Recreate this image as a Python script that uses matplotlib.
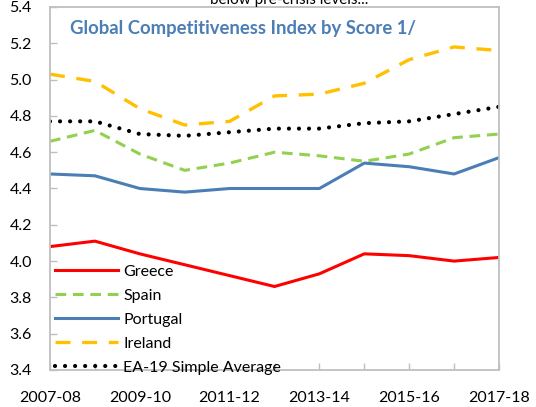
import matplotlib
matplotlib.use("Agg")
import matplotlib.pyplot as plt

plt.rcParams['font.family'] = ['Lato', 'DejaVu Sans']

years = ['2007-08', '2008-09', '2009-10', '2010-11', '2011-12', '2012-13',
         '2013-14', '2014-15', '2015-16', '2016-17', '2017-18']
greece = [4.08, 4.11, 4.04, 3.98, 3.92, 3.86, 3.93, 4.04, 4.03, 4.00, 4.02]
spain = [4.66, 4.72, 4.59, 4.50, 4.54, 4.60, 4.58, 4.55, 4.59, 4.68, 4.70]
portugal = [4.48, 4.47, 4.40, 4.38, 4.40, 4.40, 4.40, 4.54, 4.52, 4.48, 4.57]
ireland = [5.03, 4.99, 4.84, 4.75, 4.77, 4.91, 4.92, 4.98, 5.11, 5.18, 5.16]
ea19 = [4.77, 4.77, 4.70, 4.69, 4.71, 4.73, 4.73, 4.76, 4.77, 4.81, 4.85]

fig = plt.figure(figsize=(5.36, 4.07), dpi=100)
ax = fig.add_axes([50 / 536, 1 - 370 / 407, 449 / 536, 363 / 407])

x = list(range(len(years)))
ax.plot(x, greece, color='#ff0000', lw=2.2, label='Greece')
ax.plot(x, spain, color='#92d050', lw=2.2, ls=(0, (3.5, 2.2)), label='Spain')
ax.plot(x, portugal, color='#4a7eb5', lw=2.2, label='Portugal')
ax.plot(x, ireland, color='#ffc000', lw=2.4, ls=(0, (4.5, 3.5)), label='Ireland')
ax.plot(x, ea19, color='black', lw=3.0, ls=(0, (0.01, 2.4)),
        dash_capstyle='round', label='EA-19 Simple Average')

ax.set_xlim(0, len(years) - 1)
ax.set_ylim(3.4, 5.4)
ax.set_yticks([3.4 + 0.2 * i for i in range(11)])
ax.yaxis.set_major_formatter(matplotlib.ticker.FormatStrFormatter('%.1f'))
ax.set_xticks(x)
ax.set_xticklabels([y if i % 2 == 0 else '' for i, y in enumerate(years)])

ax.tick_params(axis='both', direction='in', length=5, width=1, color='#bfbfbf',
               labelsize=11.5, labelcolor='black')
ax.tick_params(axis='y', pad=13)
ax.tick_params(axis='x', pad=15)
for s in ax.spines.values():
    s.set_color('#bfbfbf')
    s.set_linewidth(1.3)

ax.text(0.045, 0.94, 'Global Competitiveness Index by Score 1/', transform=ax.transAxes,
        fontsize=13.3, fontweight='bold', color='#4a7eb5', va='center', ha='left')

leg = ax.legend(loc='lower left', bbox_to_anchor=(0.012, -0.014), frameon=False,
                fontsize=11.5, handlelength=3.9, handletextpad=0.35, labelspacing=0.62,
                borderaxespad=0, borderpad=0)

fig.text(0.54, 403 / 407, 'below pre-crisis levels...', fontsize=11, ha='center',
         va='baseline')

fig.savefig('out.png', dpi=100)
